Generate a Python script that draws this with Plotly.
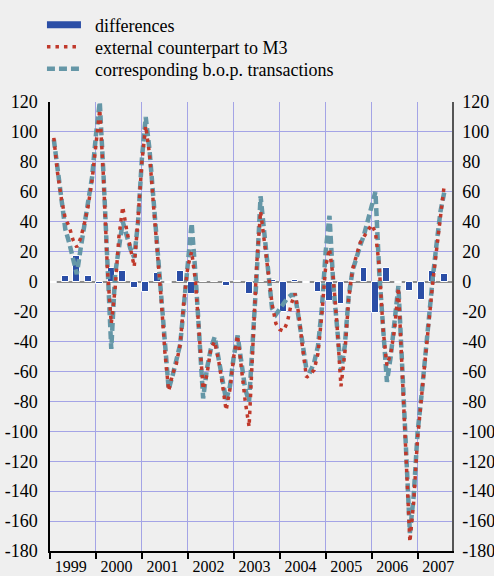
import plotly.graph_objects as go

# Monthly data, Jan 1999 .. Jul 2007 (EUR billions, 3-month cumulated flows)
bop_transactions = [
    95, 73, 51, 35, 26, 15, 5, 22, 37, 52, 70, 98,          # 1999
    120, 70, 6, -45, 5, 25, 40, 31, 22, 16, 40, 82,         # 2000
    110, 88, 55, 25, -8, -45, -72, -63, -53, -42, -15, 15,  # 2001
    39, 5, -33, -78, -58, -45, -37, -52, -68, -79, -70, -50,  # 2002
    -36, -57, -72, -80, -43, 5, 57, 32, 5, -18, -22, -18,   # 2003
    -14, -11, -9, -9, -25, -42, -59, -60, -54, -43, -18, 20,  # 2004
    44, -2, -35, -60, -43, -10, 7, 16, 24, 31, 40, 50,      # 2005
    60, 6, -30, -67, -50, -28, -3, -57, -115, -168, -143, -101,  # 2006
    -77, -48, -19, 3, 26, 47, 60,                           # 2007
]
m3_external = [
    96, 72, 55, 42, 37, 28, 23, 29, 39, 51, 68, 92,
    115, 68, 8, -28, -5, 30, 50, 35, 22, 10, 42, 80,
    104, 85, 52, 22, -10, -47, -73, -62, -55, -42, -12, 10,
    20, 0, -35, -72, -62, -45, -40, -52, -68, -86, -72, -50,
    -36, -60, -80, -97, -40, 12, 47, 28, 6, -15, -28, -32,
    -33, -27, -15, -8, -22, -45, -64, -62, -59, -48, -22, 10,
    22, 2, -30, -70, -48, -12, 8, 17, 26, 30, 34, 38,
    33, 10, -32, -56, -48, -32, -4, -58, -117, -174, -147, -105,
    -78, -50, -22, 0, 22, 44, 65,
]
# Quarterly differences, 1999 Q1 .. 2007 Q3
differences = [
    -1, 4, 17, 4,
    -1.5, 9, 7, -4,
    -7, 6, -1, 7,
    -8, -0.5, -0.5, -3,
    0.5, -8, 0, 1,
    -20, 1, -1, -7,
    -13, -15, 0, 9,
    -21, 9, -1, -6,
    -12, 7, 5,
]
years = [1999, 2000, 2001, 2002, 2003, 2004, 2005, 2006, 2007]
y_ticks = list(range(-180, 121, 20))
y_labels = [str(v) for v in y_ticks]

x_month = [1999 + (k + 1) / 12 for k in range(len(bop_transactions))]
x_quarter = [1999 + (3 * j + 1) / 12 for j in range(len(differences))]

BLUE = "#2b4ea6"
TEAL = "#6597a7"
RED = "#c0392b"
GRID = "#a4a4e6"
BG = "#efefef"
FAMILY = "Liberation Serif, Times New Roman, DejaVu Serif, serif"
FONT = dict(family=FAMILY, size=18, color="black")
NB = "\u00a0\u00a0"

fig = go.Figure()
fig.add_trace(go.Bar(x=x_quarter, y=differences, width=0.15,
                     marker=dict(color=BLUE, line=dict(color="white", width=1)),
                     showlegend=False, name="differences"))
fig.add_trace(go.Scatter(x=x_month, y=bop_transactions, mode="lines",
                         line=dict(color=TEAL, width=4.5, dash="8px,4px"),
                         name=NB + "corresponding b.o.p. transactions",
                         legend="legend3"))
fig.add_trace(go.Scatter(x=x_month, y=m3_external, mode="lines",
                         line=dict(color=RED, width=3.5, dash="3.5px,5px"),
                         name=NB + "external counterpart to M3",
                         legend="legend2"))
fig.add_trace(go.Scatter(x=[None], y=[None], mode="lines",
                         line=dict(color=BLUE, width=7),
                         name=NB + "differences", legend="legend"))
fig.add_trace(go.Scatter(x=[None], y=[None], yaxis="y2", showlegend=False,
                         hoverinfo="skip"))

PLOT_TOP, PLOT_H = 102, 449


def leg(yc):
    return dict(x=-0.02, xanchor="left", y=1 + (PLOT_TOP - yc) / PLOT_H,
                yanchor="middle", bgcolor="rgba(0,0,0,0)", font=FONT,
                itemwidth=34, borderwidth=0)


fig.update_layout(
    width=494, height=576,
    margin=dict(l=50, r=42, t=102, b=25, autoexpand=False),
    paper_bgcolor=BG, plot_bgcolor=BG,
    font=FONT,
    bargap=0,
    showlegend=True,
    hovermode=False,
    legend=leg(25), legend2=leg(47), legend3=leg(69),
    xaxis=dict(range=[1999, 2007.75], tickmode="array", automargin=False,
               tickvals=[y + 0.45 for y in years], ticktext=[str(y) for y in years],
               tickfont=dict(family=FAMILY, size=16, color="black"),
               ticks="", showgrid=False, zeroline=False,
               showline=True, linecolor="black", linewidth=1.5,
               ticklabelstandoff=0,
               minor=dict(tickmode="array", tickvals=years, ticks="outside",
                          ticklen=6, tickcolor="black", tickwidth=1.5,
                          showgrid=True, gridcolor=GRID, gridwidth=1)),
    yaxis=dict(range=[-180, 120], tickmode="array", tickvals=y_ticks,
               automargin=False,
               ticktext=y_labels, ticks="", showgrid=True, gridcolor=GRID,
               gridwidth=1, zeroline=True, zerolinecolor="#8c8c8c",
               zerolinewidth=2, showline=True, linecolor="black",
               linewidth=1.5, ticklabelstandoff=7),
    yaxis2=dict(range=[-180, 120], overlaying="y", side="right", anchor="x",
                automargin=False,
                tickmode="array", tickvals=y_ticks, ticktext=y_labels,
                ticks="", showgrid=False, zeroline=False, showline=True,
                linecolor="#555555", linewidth=1.5, ticklabelstandoff=5),
)

fig.write_html("out.html", config={"displayModeBar": False},
               post_script="document.body.style.margin='0';"
                           "document.body.style.background='#efefef';")
